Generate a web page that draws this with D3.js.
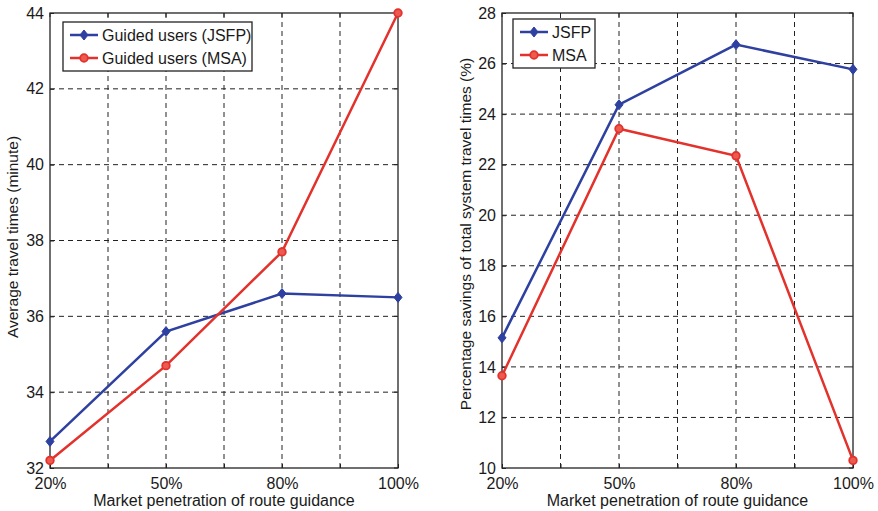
<!DOCTYPE html>
<html>
<head>
<meta charset="utf-8">
<script src="https://cdn.jsdelivr.net/npm/d3@7"></script>
<style>
  body { margin: 0; background: #fff; }
  text { font-family: "Liberation Sans", Arial, sans-serif; fill: #1a1a1a; }
</style>
</head>
<body>
<div id="chart"></div>
<script>
// 数据
const categories = ["20%", "50%", "80%", "100%"];
const leftJSFP = [32.7, 35.6, 36.6, 36.5];
const leftMSA = [32.2, 34.7, 37.7, 44.0];
const rightJSFP = [15.15, 24.37, 26.75, 25.77];
const rightMSA = [13.65, 23.42, 22.35, 10.3];
const leftYTicks = [32, 34, 36, 38, 40, 42, 44];
const rightYTicks = [10, 12, 14, 16, 18, 20, 22, 24, 26, 28];

const W = 878, H = 511;
const blue = "#2e40a0", red = "#e3312b";

const svg = d3.select("#chart").append("svg")
    .attr("width", W).attr("height", H);

const drawPanel = (opt) => {
    const g = svg.append("g");
    const x = d3.scaleLinear().domain([0, 3]).range([opt.x0, opt.x1]);
    const y = d3.scaleLinear().domain(opt.yDomain).range([opt.y1, opt.y0]);

    // 网格线（含半格位置）
    const xGrid = d3.range(1, 6).map(d => d / 2);
    g.selectAll(".vg").data(xGrid).enter().append("line")
        .attr("x1", d => x(d)).attr("x2", d => x(d))
        .attr("y1", opt.y0).attr("y2", opt.y1)
        .attr("stroke", "#222").attr("stroke-width", 1)
        .attr("stroke-dasharray", "5,4");
    g.selectAll(".hg").data(opt.yTicks.slice(1, -1)).enter().append("line")
        .attr("x1", opt.x0).attr("x2", opt.x1)
        .attr("y1", d => y(d)).attr("y2", d => y(d))
        .attr("stroke", "#222").attr("stroke-width", 1)
        .attr("stroke-dasharray", "5,4");

    // 坐标轴
    const xAxis = d3.axisBottom(x).tickValues(d3.range(0, 3.5, 0.5))
        .tickSize(-4).tickPadding(10)
        .tickFormat(d => Number.isInteger(d) ? categories[d] : "");
    const ax = g.append("g").attr("transform", `translate(0,${opt.y1})`).call(xAxis);
    const yAxis = d3.axisLeft(y).tickValues(opt.yTicks).tickSize(-4).tickPadding(6);
    const ay = g.append("g").attr("transform", `translate(${opt.x0},0)`).call(yAxis);
    [ax, ay].forEach(a => {
        a.select(".domain").remove();
        a.selectAll("line").attr("stroke", "#222");
        a.selectAll("text").style("font-size", "16px")
            .style("font-family", '"Liberation Sans", Arial, sans-serif').attr("fill", "#1a1a1a");
    });
    ax.selectAll("text").attr("dy", "0.71em");
    // 顶部和右侧的刻度
    g.selectAll(".tt").data(d3.range(0, 3.5, 0.5)).enter().append("line")
        .attr("x1", d => x(d)).attr("x2", d => x(d))
        .attr("y1", opt.y0).attr("y2", opt.y0 + 4).attr("stroke", "#222");
    g.selectAll(".rt").data(opt.yTicks).enter().append("line")
        .attr("x1", opt.x1).attr("x2", opt.x1 - 4)
        .attr("y1", d => y(d)).attr("y2", d => y(d)).attr("stroke", "#222");

    g.append("rect")
        .attr("x", opt.x0).attr("y", opt.y0)
        .attr("width", opt.x1 - opt.x0).attr("height", opt.y1 - opt.y0)
        .attr("fill", "none").attr("stroke", "#222").attr("stroke-width", 1.3);

    // 折线
    const line = d3.line().x((d, i) => x(i)).y(d => y(d));
    const series = [
        { values: opt.jsfp, color: blue, marker: "diamond" },
        { values: opt.msa, color: red, marker: "circle" }
    ];
    series.forEach(s => {
        g.append("path").datum(s.values)
            .attr("d", line).attr("fill", "none")
            .attr("stroke", s.color).attr("stroke-width", 2.5);
        drawMarkers(g, s.values.map((v, i) => [x(i), y(v)]), s);
    });

    // 图例
    const lg = g.append("g");
    lg.append("rect")
        .attr("x", opt.leg.x).attr("y", opt.leg.y)
        .attr("width", opt.leg.w).attr("height", opt.leg.h)
        .attr("fill", "#fff").attr("stroke", "#222").attr("stroke-width", 1.3);
    series.forEach((s, i) => {
        const ly = opt.leg.y + 13 + i * 23;
        const lx = opt.leg.x + 7;
        lg.append("line").attr("x1", lx).attr("x2", lx + 28)
            .attr("y1", ly).attr("y2", ly)
            .attr("stroke", s.color).attr("stroke-width", 2.5);
        drawMarkers(lg, [[lx + 14, ly]], s);
        lg.append("text").attr("x", lx + 32).attr("y", ly)
            .attr("dy", "0.35em").style("font-size", "16px")
            .text(opt.labels[i]);
    });

    // 轴标题
    g.append("text")
        .attr("x", (opt.x0 + opt.x1) / 2).attr("y", 506)
        .attr("text-anchor", "middle").style("font-size", "16px")
        .text("Market penetration of route guidance");
    g.append("text")
        .attr("transform", `translate(${opt.yTitleX},${opt.yTitleY}) rotate(-90)`)
        .attr("text-anchor", "middle").attr("dy", "0.35em").style("font-size", "15.5px")
        .text(opt.yTitle);
};

const drawMarkers = (g, pts, s) => {
    pts.forEach(p => {
        if (s.marker === "diamond") {
            g.append("path")
                .attr("d", `M${p[0]},${p[1] - 5}L${p[0] + 4},${p[1]}L${p[0]},${p[1] + 5}L${p[0] - 4},${p[1]}Z`)
                .attr("fill", s.color).attr("stroke", s.color).attr("stroke-width", 1);
        } else {
            g.append("circle").attr("cx", p[0]).attr("cy", p[1]).attr("r", 3.8)
                .attr("fill", "#ec5a50").attr("stroke", s.color).attr("stroke-width", 1.8);
        }
    });
};

drawPanel({
    x0: 50, x1: 398, y0: 13, y1: 468,
    yDomain: [32, 44], yTicks: leftYTicks,
    jsfp: leftJSFP, msa: leftMSA,
    labels: ["Guided users (JSFP)", "Guided users (MSA)"],
    leg: { x: 63, y: 22, w: 189, h: 49 },
    yTitle: "Average travel times (minute)", yTitleX: 13, yTitleY: 237
});

drawPanel({
    x0: 502, x1: 853, y0: 13, y1: 468,
    yDomain: [10, 28], yTicks: rightYTicks,
    jsfp: rightJSFP, msa: rightMSA,
    labels: ["JSFP", "MSA"],
    leg: { x: 513, y: 19, w: 82, h: 49 },
    yTitle: "Percentage savings of total system travel times (%)", yTitleX: 466, yTitleY: 234
});
</script>
</body>
</html>
